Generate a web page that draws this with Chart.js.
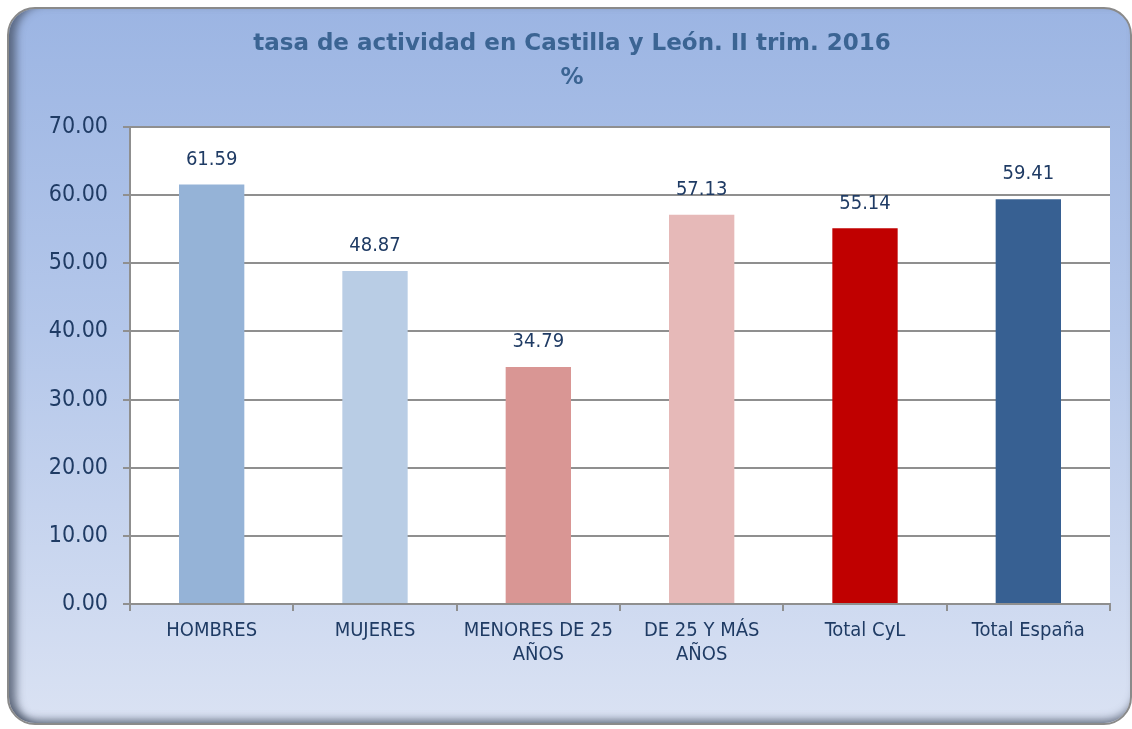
<!DOCTYPE html>
<html lang="es">

<head>
    <meta charset="UTF-8">
    <title>Tasa de actividad CyL</title>
    <script src="https://cdn.jsdelivr.net/npm/chart.js"></script>
    <style>
        body {
            margin: 0;
            background: #ffffff;
            overflow: hidden;
        }

        #marco {
            position: absolute;
            left: 7px;
            top: 7px;
            width: 1125px;
            height: 718px;
            box-sizing: border-box;
            border: 2px solid #8a8a8a;
            border-radius: 28px;
            background: linear-gradient(to bottom, #9cb5e3 0%, #b4c7ea 45%, #dae2f3 100%);
            box-shadow: inset 12px 0 8px -5px rgba(70, 80, 100, 0.75), inset 0 -9px 8px -6px rgba(70, 80, 100, 0.75);
        }

        #grafico {
            position: absolute;
            left: 0;
            top: 0;
        }
    </style>
</head>

<body>
    <div id="marco"></div>
    <canvas id="grafico" width="1132" height="729"></canvas>

    <script>
        const categorias = [
            'HOMBRES',
            'MUJERES',
            ['MENORES DE 25', 'AÑOS'],
            ['DE 25 Y MÁS', 'AÑOS'],
            'Total CyL',
            'Total España'
        ];
        const valores = [61.59, 48.87, 34.79, 57.13, 55.14, 59.41];
        const colores = ['#95b3d7', '#b9cde5', '#d99694', '#e6b9b8', '#c00000', '#376092'];
        const titulo = ['tasa de actividad en Castilla y León. II trim. 2016', '%'];

        const fuente = '"DejaVu Sans Condensed", "DejaVu Sans", sans-serif';
        const fuenteTitulo = '"DejaVu Sans", sans-serif';
        const colorTexto = '#1f3b64';

        // fondo blanco del área de trazado
        const fondoArea = {
            id: 'fondoArea',
            beforeDraw(chart) {
                const a = chart.chartArea;
                const ctx = chart.ctx;
                ctx.save();
                ctx.fillStyle = '#ffffff';
                ctx.fillRect(a.left, a.top, a.right - a.left, a.bottom - a.top);
                ctx.restore();
            }
        };

        // etiquetas de valor encima de cada barra
        const etiquetasValores = {
            id: 'etiquetasValores',
            afterDatasetsDraw(chart) {
                const ctx = chart.ctx;
                const meta = chart.getDatasetMeta(0);
                ctx.save();
                ctx.font = '20px ' + fuente;
                ctx.fillStyle = colorTexto;
                ctx.textAlign = 'center';
                ctx.textBaseline = 'middle';
                meta.data.forEach((barra, i) => {
                    ctx.fillText(valores[i].toFixed(2), barra.x, barra.y - 25);
                });
                ctx.restore();
            }
        };

        const ctx = document.getElementById('grafico').getContext('2d');
        new Chart(ctx, {
            type: 'bar',
            data: {
                labels: categorias,
                datasets: [{
                    data: valores,
                    backgroundColor: colores,
                    borderWidth: 0,
                    categoryPercentage: 1,
                    barPercentage: 0.4
                }]
            },
            options: {
                responsive: false,
                animation: false,
                layout: {
                    // izquierda 34 + eje 96 = 130; así el título queda centrado en el marco
                    padding: { left: 34, right: 22, top: 0, bottom: 0 }
                },
                scales: {
                    x: {
                        afterFit(scale) { scale.height = 125; },
                        grid: {
                            offset: true,
                            drawOnChartArea: false,
                            color: '#8f8f8f',
                            lineWidth: 2,
                            tickLength: 7
                        },
                        border: { color: '#8f8f8f', width: 2 },
                        ticks: {
                            color: colorTexto,
                            font: { family: fuente, size: 20, lineHeight: 1.2 },
                            padding: 8,
                            maxRotation: 0,
                            autoSkip: false
                        }
                    },
                    y: {
                        min: 0,
                        max: 70,
                        afterFit(scale) { scale.width = 96; },
                        grid: {
                            color: '#8f8f8f',
                            lineWidth: 2,
                            tickLength: 7
                        },
                        border: { color: '#8f8f8f', width: 2 },
                        ticks: {
                            stepSize: 10,
                            color: colorTexto,
                            font: { family: fuente, size: 23 },
                            padding: 15,
                            callback: v => v.toFixed(2)
                        }
                    }
                },
                plugins: {
                    legend: { display: false },
                    tooltip: { enabled: false },
                    title: {
                        display: true,
                        text: titulo,
                        color: '#3b6493',
                        font: { family: fuenteTitulo, size: 23, weight: 'bold', lineHeight: 1.48 },
                        padding: { top: 27, bottom: 32 }
                    }
                }
            },
            plugins: [fondoArea, etiquetasValores]
        });
    </script>
</body>

</html>
